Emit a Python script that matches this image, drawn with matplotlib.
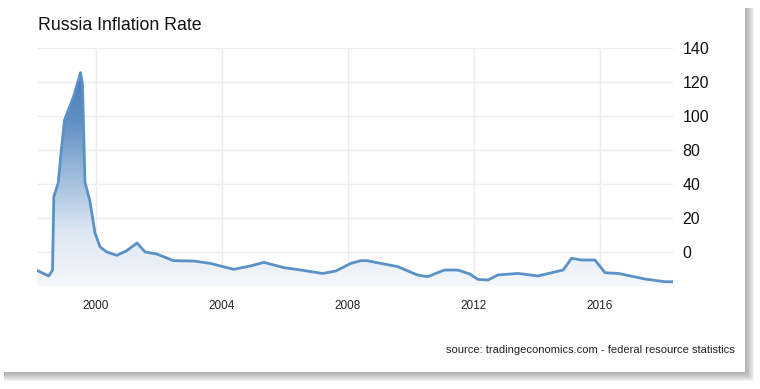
import matplotlib
matplotlib.use("Agg")
import matplotlib.pyplot as plt
import numpy as np
from matplotlib.colors import LinearSegmentedColormap
from matplotlib.patches import Rectangle

plt.rcParams['font.family'] = ['Liberation Sans', 'DejaVu Sans']

# values (decimal year, % y/y)
years = [1998.10, 1998.50, 1998.62, 1998.66, 1998.80, 1998.90, 1999.00, 1999.28,
         1999.51, 1999.57, 1999.65, 1999.80, 1999.97, 2000.13, 2000.34, 2000.66,
         2000.98, 2001.30, 2001.56, 2001.93, 2002.46, 2003.10, 2003.63, 2004.37,
         2004.90, 2005.33, 2005.97, 2006.50, 2007.19, 2007.61, 2008.09, 2008.40,
         2008.60, 2009.04, 2009.58, 2010.20, 2010.53, 2011.06, 2011.48, 2011.86,
         2012.12, 2012.44, 2012.76, 2013.40, 2014.03, 2014.46, 2014.83, 2015.10,
         2015.41, 2015.84, 2016.16, 2016.58, 2017.43, 2018.07, 2018.32]
inflation = [9.4, 5.9, 9.4, 52.5, 60.6, 80.0, 97.6, 111.0,
             125.5, 119.0, 61.0, 50.6, 31.0, 23.0, 20.0, 18.0,
             20.8, 25.3, 20.0, 18.8, 14.9, 14.7, 13.3, 9.8,
             11.8, 13.9, 10.8, 9.4, 7.4, 8.8, 13.3, 14.9,
             14.9, 13.3, 11.4, 6.5, 5.5, 9.4, 9.4, 7.1,
             3.9, 3.5, 6.5, 7.4, 5.9, 7.8, 9.4, 16.3,
             15.3, 15.3, 7.8, 7.4, 4.1, 2.5, 2.5]

x_ticks = [2000, 2004, 2008, 2012, 2016]
y_ticks = [0, 20, 40, 60, 80, 100, 120, 140]
y_labels = ['', '0', '20', '40', '80', '100', '120', '140']

W, H = 760, 389
fig = plt.figure(figsize=(W / 100, H / 100), dpi=100)
fig.patch.set_facecolor('white')

# card drop shadow: stacked translucent rects, darkest near the card edge
for k in range(1, 10):
    fig.patches.append(Rectangle((4 / W, (H - 372 - k) / H),
                                 (741 + k) / W, (364 + k) / H,
                                 transform=fig.transFigure, facecolor='#7a7a7a',
                                 edgecolor='none', alpha=0.085, zorder=0))
fig.patches.append(Rectangle((0, (H - 372) / H), 745 / W, 372 / H,
                             transform=fig.transFigure, facecolor='white',
                             edgecolor='none', zorder=1))

ax = fig.add_axes([37 / W, (H - 286) / H, 636 / W, 238 / H])
ax.set_facecolor('none')
ax.set_zorder(2)

line_color = '#5a92c7'
ax.plot(years, inflation, color=line_color, lw=2.0, zorder=4,
        solid_joinstyle='round')
poly = ax.fill_between(years, inflation, 0, color='none', zorder=3)

cmap = LinearSegmentedColormap.from_list(
    'blu', ['#f5f8fc', '#dbe6f2', '#9dbcdc', '#5f8fc2', '#4677ad'])
grad = np.linspace(0, 1, 256).reshape(-1, 1)
img = ax.imshow(grad, extent=[1998.0, 2018.5, 0, 130], origin='lower',
                aspect='auto', cmap=cmap, zorder=3)
img.set_clip_path(poly.get_paths()[0], transform=ax.transData)

ax.set_xlim(1998.127, 2018.317)
ax.set_ylim(0, 140)

ax.set_xticks(x_ticks)
ax.set_xticklabels([str(t) for t in x_ticks], fontsize=8.5, color='#222222')
ax.set_yticks(y_ticks)
ax.set_yticklabels(y_labels, fontsize=11.5, color='#111111')
ax.yaxis.tick_right()
ax.tick_params(axis='y', length=0, pad=7)
ax.tick_params(axis='x', length=0, pad=10)
ax.grid(True, color='#ececec', lw=1)
ax.set_axisbelow(True)
for s in ax.spines.values():
    s.set_visible(False)

fig.text(38 / W, 1 - 25 / H, 'Russia Inflation Rate', fontsize=12.8,
         color='#111111', ha='left', va='center', zorder=5)
fig.text(735 / W, 1 - 350 / H,
         'source: tradingeconomics.com - federal resource statistics',
         fontsize=8, color='#222222', ha='right', va='center', zorder=5)

fig.savefig('out.png', dpi=100, facecolor='white')
